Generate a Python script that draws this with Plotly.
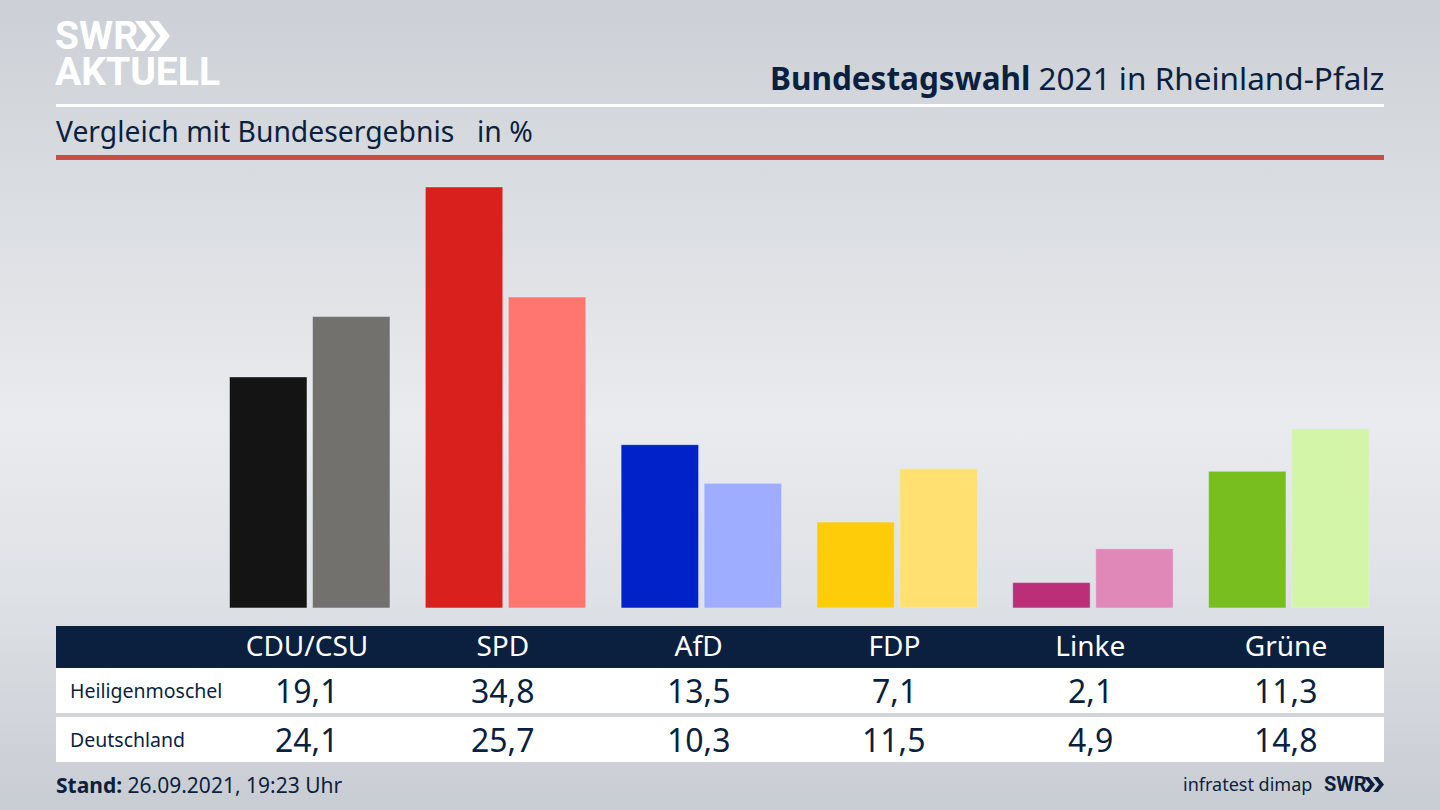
import plotly.graph_objects as go

parties = ["CDU/CSU", "SPD", "AfD", "FDP", "Linke", "Grüne"]
heiligenmoschel = [19.1, 34.8, 13.5, 7.1, 2.1, 11.3]
deutschland = [24.1, 25.7, 10.3, 11.5, 4.9, 14.8]
row_names = ["Heiligenmoschel", "Deutschland"]
colors_local = ["#141414", "#d9201d", "#0022c8", "#ffcc0a", "#bc2e78", "#78be1e"]
colors_federal = ["#72716d", "#ff7570", "#9eadff", "#ffe070", "#e088b8", "#d2f5a8"]

W, H = 1440, 810
NAVY = "#0b1f3f"
FONT = "Noto Sans"
PITCH = 195.8   # pixels between two party groups
BAR = 77.5
GAP = 5.5


# the reference is easiest to measure in pixels from the top left
def px(x):
    return x / W


def py(y):
    return 1 - y / H


def text(x, y, s, size, color=NAVY, anchor="left", family=FONT, xref="paper"):
    return dict(x=px(x) if xref == "paper" else x, y=py(y), xref=xref, yref="paper",
                text=s, showarrow=False, xanchor=anchor, yanchor="middle", borderpad=0, borderwidth=0,
                font=dict(family=family, size=size, color=color))


def rect(x0, y0, x1, y1, color):
    return dict(type="rect", xref="paper", yref="paper", x0=px(x0), x1=px(x1), y0=py(y0), y1=py(y1),
                fillcolor=color, line_width=0, layer="below")


def chevron(x, y, w, h, color):
    path = (f"M {px(x)} {py(y)} L {px(x + w * 0.45)} {py(y)} L {px(x + w)} {py(y + h / 2)} "
            f"L {px(x + w * 0.45)} {py(y + h)} L {px(x)} {py(y + h)} L {px(x + w * 0.55)} {py(y + h / 2)} Z")
    return dict(type="path", xref="paper", yref="paper", path=path, fillcolor=color, line_width=0, layer="below")


fig = go.Figure()
fig.add_bar(x=parties, y=heiligenmoschel, name=row_names[0], marker_color=colors_local,
            width=BAR / PITCH, offset=-BAR / PITCH)
fig.add_bar(x=parties, y=deutschland, name=row_names[1], marker_color=colors_federal,
            width=BAR / PITCH, offset=GAP / PITCH)

annotations = [
    text(1384, 77, "<b>Bundestagswahl</b> 2021 in Rheinland-Pfalz", 31.5, anchor="right"),
    text(56, 131, "Vergleich mit Bundesergebnis", 28.3),
    text(477, 131, "in %", 28.3),
    text(56, 785, "<b>Stand:</b> 26.09.2021, 19:23 Uhr", 21),
    text(1312, 784, "infratest dimap", 18, anchor="right"),
    text(1324, 784, "<b>SWR</b>", 20, family="Roboto"),
    text(55, 36, "<b>SWR</b>", 39, color="white", family="Roboto"),
    text(55, 72, "<b>AKTUELL</b>", 39, color="white", family="Roboto"),
]
for i, name in enumerate(row_names):
    row_y = [690, 739][i]
    annotations.append(text(70, row_y, name, 19.5))
    for party, a, b in zip(parties, heiligenmoschel, deutschland):
        v = [a, b][i]
        annotations.append(text(party, row_y, f"{v:.1f}".replace(".", ","), 32, anchor="center", xref="x"))

shapes = [
    rect(56, 104, 1384, 107, "white"),
    rect(56, 155, 1384, 160, "#c8503f"),
    rect(56, 626, 1384, 668, NAVY),
    rect(56, 668, 1384, 713, "white"),
    rect(56, 717, 1384, 762, "white"),
    chevron(135, 21, 21, 30, "white"),
    chevron(149, 21, 21, 30, "white"),
    chevron(1364, 777, 11, 15, NAVY),
    chevron(1373, 777, 11, 15, NAVY),
]

fig.update_layout(
    width=W, height=H, margin=dict(l=0, r=0, t=0, b=0), showlegend=False,
    paper_bgcolor="rgba(0,0,0,0)", plot_bgcolor="rgba(0,0,0,0)",
    annotations=annotations, shapes=shapes,
    xaxis=dict(domain=[0, 1], range=[-307 / PITCH, (W - 307) / PITCH], type="category",
               categoryorder="array", categoryarray=parties, showgrid=False, zeroline=False, showline=False,
               ticks="outside", ticklen=13, tickcolor="rgba(0,0,0,0)",
               tickfont=dict(family=FONT, size=28, color="white")),
    yaxis=dict(domain=[py(608), py(178)], range=[0, 430 / 12.1], visible=False),
)

background = """
document.documentElement.style.height = '100%';
document.body.style.height = '100%';
document.body.style.margin = '0';
document.body.style.overflow = 'hidden';
document.body.style.background = 'linear-gradient(180deg, #ccd0d6 0%, #dcdfe3 28%, #e9ebee 52%, #dfe2e6 72%, #c8ccd3 100%)';
"""
fig.write_html("out.html", post_script=background, config={"displayModeBar": False})
